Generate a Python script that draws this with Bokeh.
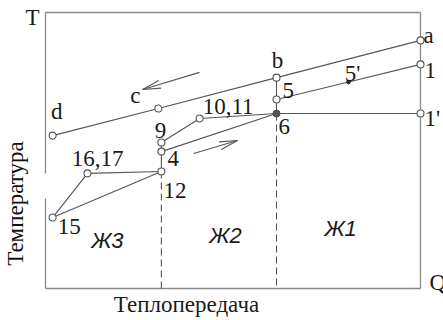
import numpy as np
from bokeh.plotting import figure
from bokeh.models import Range1d, ColumnDataSource
from bokeh.core.properties import value
from bokeh.embed import file_html
from bokeh.resources import INLINE

# State points on the T-Q diagram (Q in % of total heat, T in relative units)
point_names = ["a", "1", "1'", "b", "5", "6", "5'", "c", "d", "9", "4", "12", "10,11", "16,17", "15"]
point_q = [100.0, 100.0, 100.0, 61.6, 61.6, 61.6, 80.8, 30.1, 1.9, 30.9, 30.9, 30.9, 41.1, 11.2, 1.9]
point_t = [89.9, 81.2, 63.4, 76.4, 68.5, 63.4, 74.8, 65.2, 55.4, 52.9, 49.6, 42.4, 61.6, 41.7, 25.7]

# Process lines connecting the state points
paths = [
    ["d", "c", "b", "a"],
    ["5", "5'", "1"],
    ["6", "1'"],
    ["4", "6"],
    ["9", "10,11", "6"],
    ["15", "16,17", "12"],
    ["15", "12"],
    ["12", "4", "9"],
    ["b", "5", "6"],
]

# Zone boundaries (dashed) and zone names
zone_bounds = ["12", "6"]
zone_names = ["Ж3", "Ж2", "Ж1"]
zone_q = [16.5, 48.0, 78.7]
zone_t = [14.9, 16.7, 19.2]

# Flow direction arrows: (q_from, t_from, q_to, t_to)
arrow_q0 = [41.1, 39.5]
arrow_t0 = [78.3, 48.9]
arrow_q1 = [25.9, 51.2]
arrow_t1 = [72.1, 53.6]

W, H = 443, 320
PX_Q, PX_T = 3.75, 2.76  # pixels per data unit
x0_px, y0_px = 45, 288   # frame origin in pixels
FS = "23px"
BL = -7                  # baseline correction for the text glyphs, px

p = figure(width=W, height=H, output_backend="svg", toolbar_location=None,
           x_axis_type=None, y_axis_type=None, min_border=0,
           x_range=Range1d(-x0_px / PX_Q, (W - x0_px) / PX_Q),
           y_range=Range1d(-(H - y0_px) / PX_T, y0_px / PX_T))
p.grid.visible = False
p.outline_line_color = None
p.background_fill_color = "white"
p.border_fill_color = "white"

FRAME = "#8a8a8a"
LINE = "#555555"
TXT = "#1a1a1a"
SERIF = value("Liberation Serif")

# Diagram frame (left side interrupted near point 15)
p.multi_line(xs=[[0, 100], [100, 100], [0, 100], [0, 0], [0, 0]],
             ys=[[100, 100], [100, 0], [0, 0], [100, 41.7], [32.6, 0]],
             line_color=FRAME, line_width=1.3)

idx = {n: i for i, n in enumerate(point_names)}

# Dashed zone boundaries down to the Q axis
p.multi_line(xs=[[point_q[idx[n]], point_q[idx[n]]] for n in zone_bounds],
             ys=[[point_t[idx[n]], 0] for n in zone_bounds],
             line_color=LINE, line_width=1.1, line_dash="7 4")

p.multi_line(xs=[[point_q[idx[n]] for n in path] for path in paths],
             ys=[[point_t[idx[n]] for n in path] for path in paths],
             line_color=LINE, line_width=1.1)

# Arrows with long, narrow open heads
head_len, head_w = 18.0, 4.0
axs, ays = [], []
for qa, ta, qb, tb in zip(arrow_q0, arrow_t0, arrow_q1, arrow_t1):
    ax, ay, bx, by = qa * PX_Q, ta * PX_T, qb * PX_Q, tb * PX_T
    d = np.array([bx - ax, by - ay])
    u = d / np.hypot(*d)
    nrm = np.array([-u[1], u[0]])
    tip = np.array([bx, by])
    b1 = tip - head_len * u + head_w * nrm
    b2 = tip - head_len * u - head_w * nrm
    axs += [[qa, qb], [b1[0] / PX_Q, qb, b2[0] / PX_Q]]
    ays += [[ta, tb], [b1[1] / PX_T, tb, b2[1] / PX_T]]
p.multi_line(xs=axs, ys=ays, line_color=LINE, line_width=1.1)

# Point markers
open_pts = [n for n in point_names if n not in ("5'", "6")]
p.scatter([point_q[idx[n]] for n in open_pts], [point_t[idx[n]] for n in open_pts],
          size=7, marker="circle", line_color=LINE, fill_color="white", line_width=1.1)
p.scatter([point_q[idx["6"]]], [point_t[idx["6"]]], size=7, marker="circle",
          line_color="#444444", fill_color="#555555")
p.scatter([point_q[idx["5'"]]], [point_t[idx["5'"]]], size=3.5, marker="circle",
          line_color="#222222", fill_color="#222222")

# Point labels: alignment and pixel offset from the point
label_style = {
    "a": ("left", 3, 2), "1": ("left", 4, 13), "1'": ("left", 4, 12),
    "b": ("center", 1, -10), "5": ("left", 6, -2), "5'": ("center", 4, -2),
    "6": ("left", 2, 20), "c": ("center", -23, -6), "d": ("center", 4, -17),
    "9": ("center", -1, -5), "4": ("left", 6, 14), "10,11": ("left", 3, -5),
    "12": ("left", 2, 26), "16,17": ("center", 10, -8), "15": ("left", 5, 16),
}
for align in ("left", "center"):
    names = [n for n in point_names if label_style[n][0] == align]
    src = ColumnDataSource(dict(
        x=[point_q[idx[n]] for n in names], y=[point_t[idx[n]] for n in names],
        text=names, dx=[label_style[n][1] for n in names],
        dy=[label_style[n][2] + BL for n in names]))
    p.text("x", "y", text="text", x_offset="dx", y_offset="dy", source=src,
           text_align=align, text_baseline="alphabetic", text_font=SERIF,
           text_font_size=FS, text_color=TXT)

# Zone names
p.text(zone_q, zone_t, text=zone_names, y_offset=BL, text_align="center",
       text_baseline="alphabetic", text_font=value("Liberation Sans"),
       text_font_style="italic", text_font_size="22px", text_color=TXT)

# Axis symbols and titles
p.text([0], [100], text=["T"], x_offset=-13, y_offset=12 + BL, text_align="center",
       text_baseline="alphabetic", text_font=SERIF, text_font_size=FS, text_color=TXT)
p.text([100], [0], text=["Q"], x_offset=9, y_offset=1 + BL, text_align="left",
       text_baseline="alphabetic", text_font=SERIF, text_font_size=FS, text_color=TXT)
p.text([0], [0], text=["Теплопередача"], x_offset=141, y_offset=23 + BL, text_align="center",
       text_baseline="alphabetic", text_font=SERIF, text_font_size=FS, text_color=TXT)
p.text([0], [0], text=["Температура"], x_offset=-30, y_offset=-85, angle=np.pi / 2,
       text_align="center", text_baseline="alphabetic", text_font=SERIF,
       text_font_size=FS, text_color="#111111")

open("out.html", "w").write(file_html(p, INLINE))
